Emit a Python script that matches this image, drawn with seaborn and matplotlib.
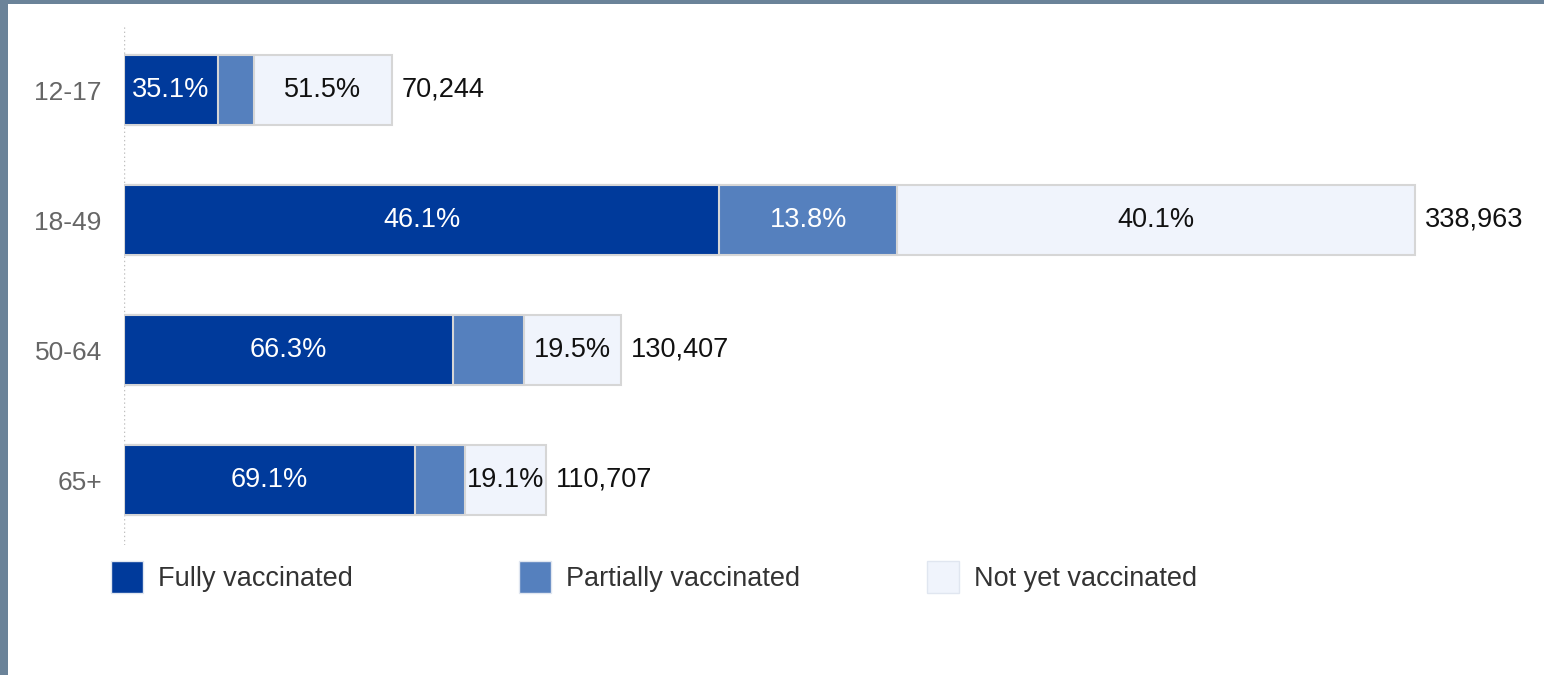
import matplotlib
matplotlib.use("Agg")
import matplotlib.pyplot as plt
from matplotlib.patches import Patch, Rectangle
import pandas as pd
import seaborn as sns

# values
ages = ["12-17", "18-49", "50-64", "65+"]
fully = [35.1, 46.1, 66.3, 69.1]
partial = [13.4, 13.8, 14.2, 11.8]
not_yet = [51.5, 40.1, 19.5, 19.1]
totals = [70244, 338963, 130407, 110707]

c_full = "#003a9b"
c_part = "#5580be"
c_not = "#f0f4fc"
edge = "#d6d6d6"

sns.set_theme(style="white")
plt.rcParams["font.family"] = ["Liberation Sans", "DejaVu Sans"]

df = pd.DataFrame({"age": ages, "fully": fully, "partial": partial,
                   "not_yet": not_yet, "total": totals})
df["n_full"] = df["total"] * df["fully"] / 100
df["n_part"] = df["total"] * df["partial"] / 100
df["n_not"] = df["total"] * df["not_yet"] / 100
df["cum_part"] = df["n_full"] + df["n_part"]

fig = plt.figure(figsize=(15.44, 6.75), dpi=100, facecolor="#6b8399")
fig.patches.append(Rectangle((8 / 1544, 0), 1, 671 / 675, transform=fig.transFigure,
                             facecolor="white", edgecolor="none", zorder=-1))
ax = fig.add_axes([124 / 1544, 130 / 675, 1420 / 1544, 520 / 675])
ax.set_facecolor("none")

kw = dict(y="age", orient="h", width=0.54, edgecolor=edge, linewidth=1.5, ax=ax)
sns.barplot(data=df, x="total", color=c_not, saturation=1, **kw)
sns.barplot(data=df, x="cum_part", color=c_part, saturation=1, **kw)
sns.barplot(data=df, x="n_full", color=c_full, saturation=1, **kw)

xmax = 338963 * 1420 / 1291
ax.set_xlim(0, xmax)
ax.set_ylim(3.5, -0.5)
ax.axvline(0, color="#c0c0c0", lw=1, ls=(0, (1, 2)), zorder=0)

fs = 19.5
for i, r in df.iterrows():
    segs = [(0, r["n_full"], r["fully"], "white"),
            (r["n_full"], r["n_part"], r["partial"], "white"),
            (r["cum_part"], r["n_not"], r["not_yet"], "#111111")]
    for left, w, pct, col in segs:
        if w > 20000:
            ax.text(left + w / 2, i, f"{pct:.1f}%", ha="center", va="center",
                    color=col, fontsize=fs)
    ax.text(r["total"] + xmax * 0.007, i, f"{int(r['total']):,}", ha="left",
            va="center", color="#111111", fontsize=fs)

ax.set_xlabel("")
ax.set_ylabel("")
ax.set_xticks([])
ax.tick_params(axis="y", length=0, pad=16, labelsize=19, labelcolor="#666666")
sns.despine(ax=ax, left=True, bottom=True)

# legend, one entry per fixed column
labels = ["Fully vaccinated", "Partially vaccinated", "Not yet vaccinated"]
colors = [c_full, c_part, c_not]
xs = [111, 519, 927]
for lab, col, x in zip(labels, colors, xs):
    fig.legend(handles=[Patch(facecolor=col, edgecolor="#e0e6f0", label=lab)],
               loc="center left", bbox_to_anchor=(x / 1544, 1 - 577 / 675),
               frameon=False, borderpad=0, borderaxespad=0, fontsize=fs,
               handlelength=1.18, handleheight=1.4, handletextpad=0.55,
               labelcolor="#333333")

fig.savefig("out.png", dpi=100, facecolor=fig.get_facecolor())
